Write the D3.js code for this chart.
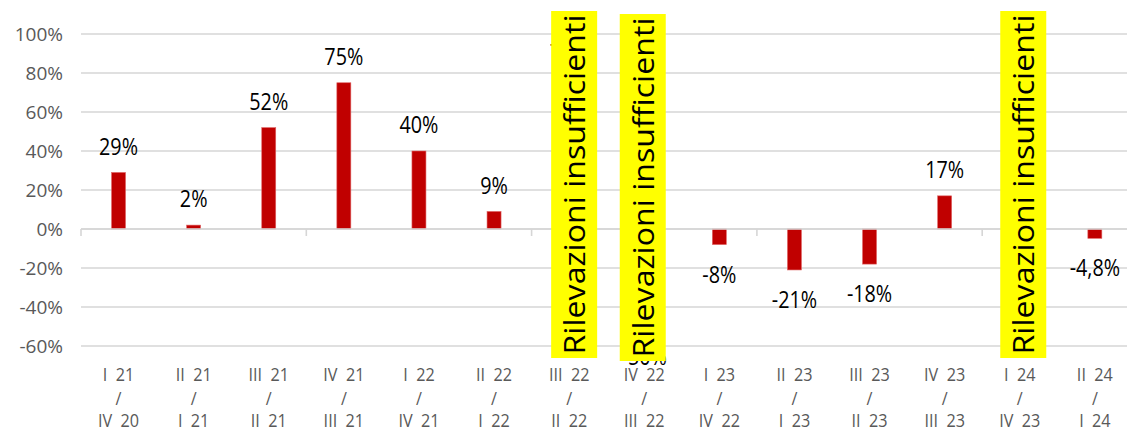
<!DOCTYPE html>
<html><head><meta charset="utf-8">
<script src="https://cdn.jsdelivr.net/npm/d3@7"></script>
<style>body{margin:0;background:#fff}svg{display:block}</style>
</head><body><svg id="c" width="1127" height="432"></svg>
<script>
// ---- data ----
const periodTop = ["I  21","II  21","III  21","IV  21","I  22","II  22","III  22","IV  22","I  23","II  23","III  23","IV  23","I  24","II  24"];
const periodBottom = ["IV  20","I  21","II  21","III  21","IV  21","I  22","II  22","III  22","IV  22","I  23","II  23","III  23","IV  23","I  24"];
// III 22 and IV 22 values lie under the "insufficient data" boxes (only label fragments visible)
const values = [29, 2, 52, 75, 40, 9, 77, -50, -8, -21, -18, 17, null, -4.8];
const valueLabels = ["29%","2%","52%","75%","40%","9%","77%","-50%","-8%","-21%","-18%","17%","","-4,8%"];
const yTicks = [100, 80, 60, 40, 20, 0, -20, -40, -60];
const noteIndices = [6, 7, 12];
const noteText = "Rilevazioni insufficienti";

// ---- layout ----
(function () {
const W = 1127, H = 432;
const band = 75.1, mLeft = 81, mTop = 34, mBottom = 346;
const mRight = mLeft + band * periodTop.length;
const svg = d3.select("#c");

const x = d3.scaleBand().domain(d3.range(periodTop.length)).range([mLeft, mRight]).padding(0);
const y = d3.scaleLinear().domain([-60, 100]).range([mBottom, mTop]);
const bw = 14;
const cx = i => x(i) + x.bandwidth() / 2;

// gridlines
svg.append("g").selectAll("line").data(yTicks).join("line")
  .attr("x1", mLeft).attr("x2", W)
  .attr("y1", d => y(d)).attr("y2", d => y(d))
  .attr("stroke", "#d6d6d6").attr("stroke-width", 1.6);

// y labels
const yAxis = d3.axisLeft(y).tickValues(yTicks).tickSize(0).tickPadding(0).tickFormat(d => d + "%");
const gy = svg.append("g").attr("transform", `translate(63,0)`).call(yAxis);
gy.select(".domain").remove();
gy.selectAll("text").attr("font-family", "Open Sans, sans-serif").attr("font-size", 19)
  .attr("fill", "#595959").attr("dy", "0.35em");

// bars
const bars = values.map((v, i) => ({v, i})).filter(d => d.v !== null);
svg.append("g").selectAll("rect").data(bars).join("rect")
  .attr("x", d => cx(d.i) - bw / 2)
  .attr("width", bw)
  .attr("y", d => y(Math.max(0, d.v)))
  .attr("height", d => Math.abs(y(d.v) - y(0)))
  .attr("fill", "#c00000").attr("stroke", "#e06666").attr("stroke-width", 0.6);

// zero axis with ticks every 3 categories
svg.append("line").attr("x1", mLeft).attr("x2", W).attr("y1", y(0)).attr("y2", y(0))
  .attr("stroke", "#d6d6d6").attr("stroke-width", 1.6);
const tickIdx = d3.range(0, periodTop.length, 3);
svg.append("g").selectAll("line").data(tickIdx).join("line")
  .attr("x1", d => x(d)).attr("x2", d => x(d))
  .attr("y1", y(0)).attr("y2", y(0) + 7)
  .attr("stroke", "#d6d6d6").attr("stroke-width", 1.6);

// value labels
svg.append("g").selectAll("g").data(bars).join("g")
  .attr("transform", d => `translate(${cx(d.i)},${d.v >= 0 ? y(d.v) - 26 : y(d.v) + 30}) scale(0.86,1)`)
  .append("text")
  .attr("dy", "0.35em")
  .attr("text-anchor", "middle")
  .attr("font-family", "Open Sans, sans-serif").attr("font-size", 23)
  .attr("fill", "#000")
  .text(d => valueLabels[d.i]);

// x labels (3 lines)
const gx = svg.append("g").selectAll("g").data(d3.range(periodTop.length)).join("g")
  .attr("transform", d => `translate(${cx(d)},0) scale(0.9,1)`);
const xl = (sel, yy, f) => sel.append("text").attr("y", yy).attr("dy", "0.35em")
  .attr("text-anchor", "middle").attr("font-family", "Open Sans, sans-serif").attr("font-size", 18)
  .attr("fill", "#595959").style("white-space", "pre").text(f);
xl(gx, 375, d => periodTop[d]);
xl(gx, 399, () => "/");
xl(gx, 421, d => periodBottom[d]);

// notes (drawn over the covered bars)
const noteOffset = {6: 5, 7: -1.5, 12: 3.5};
const noteTop = {6: 11, 7: 14, 12: 11};
const boxW = 46, boxH = 347;
const notes = svg.append("g").selectAll("g").data(noteIndices).join("g")
  .attr("transform", d => `translate(${cx(d) + noteOffset[d]},${noteTop[d]})`);
notes.append("rect").attr("x", -boxW / 2).attr("y", 0).attr("width", boxW).attr("height", boxH).attr("fill", "#ffff00");
notes.append("text")
  .attr("transform", `translate(0,${boxH / 2}) rotate(-90)`)
  .attr("text-anchor", "middle").attr("dy", "0.36em")
  .attr("font-family", "Open Sans, sans-serif").attr("font-size", 30)
  .attr("textLength", 340).attr("lengthAdjust", "spacingAndGlyphs")
  .attr("fill", "#000").text(noteText);
})();
</script></body></html>
